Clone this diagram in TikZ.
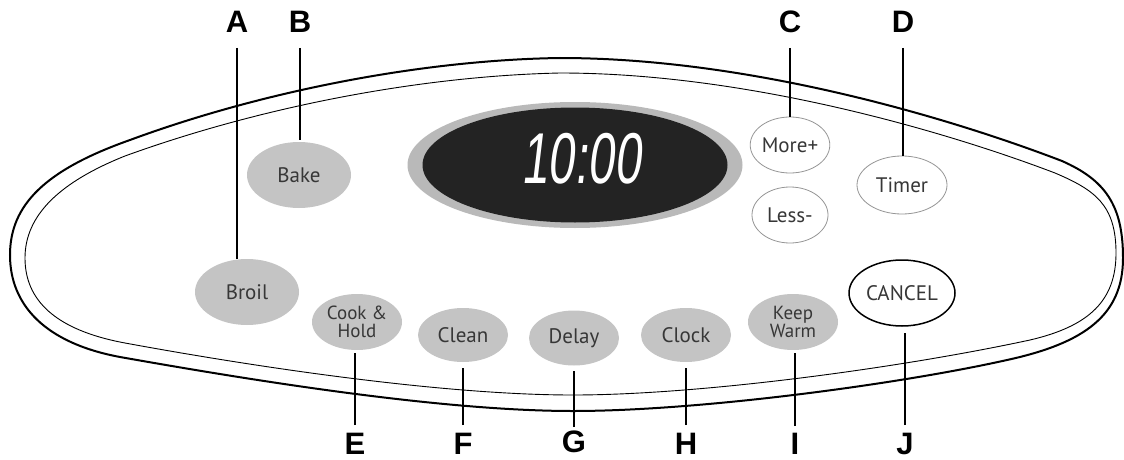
\documentclass[tikz,border=0pt]{standalone}
\usepackage{graphicx}
\usepackage{fontspec}
\setmainfont{PT Sans}
\newfontfamily\lblfont{Liberation Sans}
\newfontfamily\digfont{Liberation Sans}[FakeSlant=0.18]
\usetikzlibrary{shapes.geometric}
\definecolor{btngray}{RGB}{196,196,196}
\definecolor{btntext}{RGB}{55,55,55}
\definecolor{ringgray}{RGB}{185,185,185}
\definecolor{dispdark}{RGB}{35,35,35}
\definecolor{thingray}{RGB}{150,150,150}
\tikzset{
  btn/.style={ellipse, inner sep=0pt, fill=btngray, text=btntext, align=center,
    font=\fontsize{21}{21}\selectfont},
  btnsmall/.style={btn, font=\fontsize{19}{18}\selectfont},
  wbtn/.style={ellipse, inner sep=0pt, fill=white, draw=thingray, line width=0.8pt,
    text=btntext, font=\fontsize{21}{21}\selectfont},
  lbl/.style={inner sep=0pt, font=\lblfont\bfseries\fontsize{31}{31}\selectfont},
  leader/.style={draw=black, line width=1.3pt},
}
\begin{document}
\begin{tikzpicture}[x=1pt,y=-1pt]
\useasboundingbox (0,0) rectangle (1124,460);
% panel outlines
\draw[line width=2pt, fill=white]
  (560,58) .. controls (420,60) and (260,92) .. (130,140)
  .. controls (45,170) and (10,205) .. (10,255)
  .. controls (10,305) and (45,343) .. (120,357)
  .. controls (250,380) and (440,411) .. (573,411)
  .. controls (700,411) and (900,384) .. (1007,360)
  .. controls (1085,343) and (1123,315) .. (1123,258)
  .. controls (1123,205) and (1105,180) .. (1062,161)
  .. controls (950,118) and (750,58) .. (560,58) -- cycle;
\draw[line width=0.9pt]
  (560,73) .. controls (420,76) and (260,107) .. (125,156)
  .. controls (60,182) and (25,215) .. (25,258)
  .. controls (25,300) and (55,330) .. (125,343)
  .. controls (250,366) and (440,395) .. (573,395)
  .. controls (700,395) and (900,368) .. (1030,340)
  .. controls (1090,326) and (1116,300) .. (1116,253)
  .. controls (1116,205) and (1095,190) .. (1055,173)
  .. controls (950,133) and (750,73) .. (560,73) -- cycle;
% display
\node[ellipse, fill=ringgray, minimum width=335, minimum height=126, inner sep=0pt] (disp) at (575,165) {};
\node[ellipse, fill=dispdark, minimum width=305, minimum height=115, inner sep=0pt] (dispin) at (575,165) {};
\node[inner sep=0pt, text=white] (digits) at (581,159) {\scalebox{0.66}[1]{\digfont\fontsize{72}{72}\selectfont 10:00}};
% buttons
\node[btn, minimum width=104, minimum height=66] (bake) at (299,175) {Bake};
\node[btn, minimum width=104, minimum height=66] (broil) at (247,292) {Broil};
\node[btnsmall, minimum width=90, minimum height=56] (cook) at (357,322) {Cook \&\\Hold};
\node[btn, minimum width=90, minimum height=54] (clean) at (463,335) {Clean};
\node[btn, minimum width=90, minimum height=55] (delay) at (574,338) {Delay};
\node[btn, minimum width=90, minimum height=54] (clock) at (686,335) {Clock};
\node[btnsmall, minimum width=90, minimum height=56] (keep) at (793,322) {Keep\\Warm};
\node[wbtn, minimum width=76, minimum height=56] (more) at (790,145) {More+};
\node[wbtn, minimum width=76, minimum height=56] (less) at (790,215) {Less-};
\node[wbtn, minimum width=90, minimum height=58] (timer) at (902,185) {Timer};
\node[ellipse, inner sep=0pt, fill=white, draw=black, line width=1.5pt, text=btntext,
  font=\fontsize{21}{21}\selectfont, minimum width=106, minimum height=66] (cancel) at (902,293) {CANCEL};
% labels
\node[lbl, anchor=south] (A) at (237,33) {A};
\node[lbl, anchor=south] (B) at (300,33) {B};
\node[lbl, anchor=south] (C) at (790,33) {C};
\node[lbl, anchor=south] (D) at (903,33) {D};
\node[lbl, anchor=north] (E) at (355,433) {E};
\node[lbl, anchor=north] (F) at (463,433) {F};
\node[lbl, anchor=north] (G) at (574,431) {G};
\node[lbl, anchor=north] (H) at (686,433) {H};
\node[lbl, anchor=north] (I) at (795,433) {I};
\node[lbl, anchor=north] (J) at (905,433) {J};
% leaders
\draw[leader, shorten <=15pt] (A.south) -- (A.south |- broil.north);
\draw[leader, shorten <=15pt, shorten >=2pt] (B.south) -- (B.south |- bake.north);
\draw[leader, shorten <=15pt] (C.south) -- (C.south |- more.north);
\draw[leader, shorten <=15pt] (D.south) -- (D.south |- timer.north);
\draw[leader, shorten <=8pt, shorten >=3pt] (E.north) -- (E.north |- cook.south);
\draw[leader, shorten <=8pt, shorten >=6pt] (F.north) -- (F.north |- clean.south);
\draw[leader, shorten <=4pt, shorten >=5pt] (G.north) -- (G.north |- delay.south);
\draw[leader, shorten <=8pt, shorten >=6pt] (H.north) -- (H.north |- clock.south);
\draw[leader, shorten <=7pt, shorten >=3pt] (I.north) -- (I.north |- keep.south);
\draw[leader, shorten <=8pt, shorten >=6pt] (J.north) -- (J.north |- cancel.south);
\end{tikzpicture}
\end{document}
